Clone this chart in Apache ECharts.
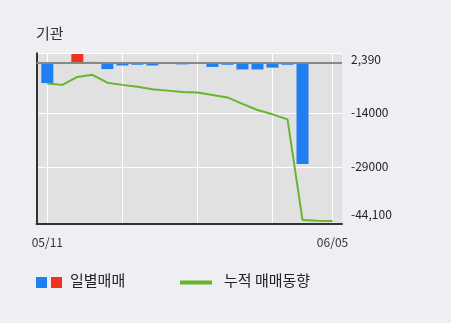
<!DOCTYPE html>
<html><head><meta charset="utf-8">
<script src="https://cdn.jsdelivr.net/npm/echarts@6/dist/echarts.min.js"></script>
<style>html,body{margin:0;padding:0;background:#edeff3;}#c{width:451px;height:323px;}</style>
</head><body><div id="c"></div>
<script>
const dates = ['05/11','05/12','05/13','05/14','05/15','05/18','05/19','05/20','05/21','05/22','05/25','05/26','05/27','05/28','05/29','06/01','06/02','06/03','06/04','06/05'];
const dailyValues = [-5700, -400, 2390, 200, -1800, -800, -600, -800, -300, -500, -200, -1200, -600, -1900, -1900, -1400, -600, -28260, -200, -100];
const cumulativeValues = [-5800, -6200, -4000, -3400, -5600, -6200, -6700, -7400, -7800, -8200, -8300, -9000, -9700, -11500, -13200, -14400, -15800, -43800, -44000, -44100];
const yTickValues = [2390, -14000, -29000, -44100];
const yTickLabels = ['2,390', '-14000', '-29000', '-44,100'];
const yGridValues = [2590, -14000, -29000];
const xGridIndices = [0, 5, 10, 15, 19];
const xLabelIndices = [0, 19];
const titleText = '기관';
const legendDaily = '일별매매';
const legendCum = '누적 매매동향';

const FONT = '"Noto Sans CJK KR", "Noto Sans", sans-serif';
const BLUE = '#1f7ef2', RED = '#f0321e', GREEN = '#6ab42d';
const Y_MIN = -44930, Y_MAX = 2590;

const chart = echarts.init(document.getElementById('c'), null, {renderer: 'canvas'});
chart.setOption({
  backgroundColor: '#edeff3',
  animation: false,
  textStyle: {fontFamily: FONT},
  grid: {left: 36.5, right: 109, top: 53.3, bottom: 99, show: true, backgroundColor: '#e1e1e1', borderWidth: 0},
  xAxis: {
    type: 'value', min: -0.72, max: 19.63,
    axisLine: {show: true, onZero: false, lineStyle: {color: '#333', width: 2}},
    axisTick: {show: false, customValues: xGridIndices},
    splitLine: {show: true, lineStyle: {color: '#ffffff', width: 1}},
    axisLabel: {customValues: xLabelIndices, formatter: v => dates[Math.round(v)], color: '#333', fontSize: 12, margin: 12, fontFamily: FONT}
  },
  yAxis: [
    {
      type: 'value', min: Y_MIN, max: Y_MAX, position: 'left',
      axisLine: {show: true, onZero: false, lineStyle: {color: '#333', width: 2}},
      axisTick: {show: false, customValues: yGridValues},
      axisLabel: {show: false},
      splitLine: {show: true, lineStyle: {color: '#ffffff', width: 1}}
    },
    {
      type: 'value', min: Y_MIN, max: Y_MAX, position: 'right',
      axisLine: {show: false, onZero: false}, axisTick: {show: false}, splitLine: {show: false},
      axisLabel: {
        customValues: yTickValues, margin: 9, color: '#222', fontSize: 12, fontFamily: FONT,
        formatter: v => {
          const i = yTickValues.indexOf(v);
          const t = i >= 0 ? yTickLabels[i] : '';
          if (i === 0) return '{t|' + t + '}';
          if (i === yTickValues.length - 1) return '{b|' + t + '}';
          return t;
        },
        rich: {
          t: {padding: [11, 0, 0, 0], fontSize: 12, color: '#222', fontFamily: FONT},
          b: {padding: [0, 0, 14, 0], fontSize: 12, color: '#222', fontFamily: FONT}
        }
      }
    }
  ],
  series: [
    {
      type: 'bar', yAxisIndex: 0, barWidth: 12,
      data: dailyValues.map((v, i) => ({value: [i, v], itemStyle: {color: v >= 0 ? RED : BLUE}})),
      markLine: {silent: true, symbol: 'none', label: {show: false},
        lineStyle: {color: '#888', width: 2, type: 'solid'}, data: [{yAxis: 0}]}
    },
    {
      type: 'line', yAxisIndex: 0, symbol: 'none', z: 5,
      lineStyle: {color: GREEN, width: 2},
      data: cumulativeValues.map((v, i) => [i, v])
    }
  ],
  graphic: [
    {type: 'text', left: 36, top: 26, style: {text: titleText, fontSize: 15, fill: '#333', fontFamily: FONT}},
    {type: 'rect', shape: {x: 36, y: 277, width: 11, height: 11}, style: {fill: BLUE}},
    {type: 'rect', shape: {x: 51, y: 277, width: 11, height: 11}, style: {fill: RED}},
    {type: 'text', left: 70, top: 273, style: {text: legendDaily, fontSize: 15, fill: '#222', fontFamily: FONT}},
    {type: 'rect', shape: {x: 180, y: 280.5, width: 32, height: 4}, style: {fill: GREEN}},
    {type: 'text', left: 224, top: 273, style: {text: legendCum, fontSize: 15, fill: '#222', fontFamily: FONT}}
  ]
});
</script>
</body></html>
